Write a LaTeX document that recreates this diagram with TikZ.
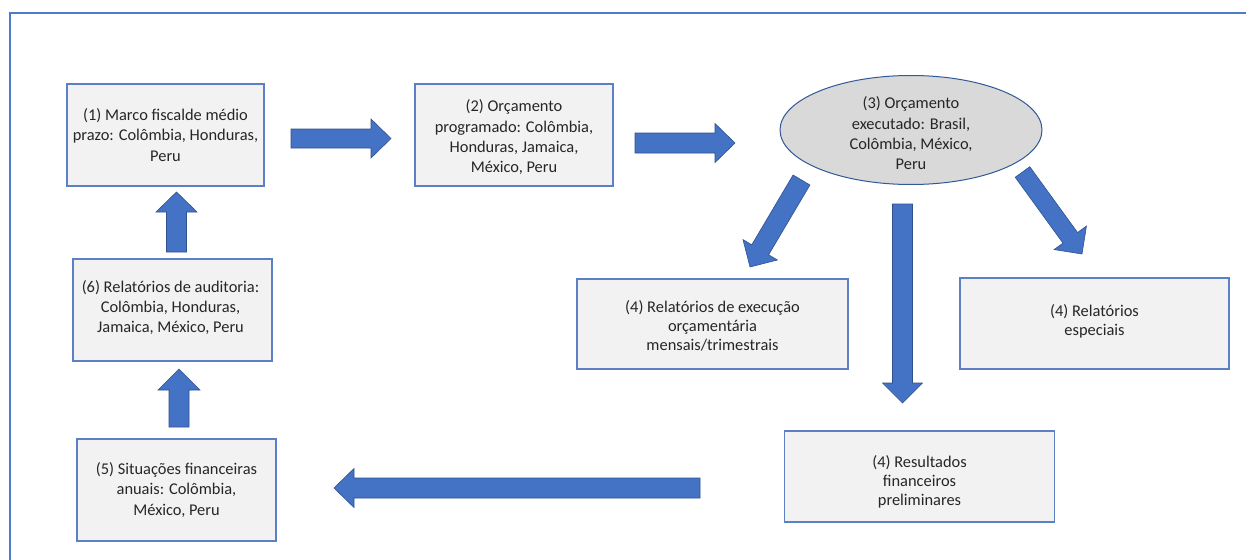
\documentclass[tikz,border=0pt]{standalone}
\usepackage{fontspec}
\setmainfont{Carlito}
\usetikzlibrary{calc,shapes.geometric}
\definecolor{bluefill}{HTML}{4472C4}
\definecolor{blueedge}{HTML}{2F528F}
\definecolor{boxedge}{HTML}{5B80C6}
\definecolor{boxfill}{HTML}{F2F2F2}
\definecolor{ellfill}{HTML}{D9D9D9}
\definecolor{txtcol}{HTML}{262626}
\definecolor{framecol}{HTML}{4F7BCB}
\tikzset{
  box/.style={rectangle, draw=boxedge, fill=boxfill, line width=1.1pt, inner sep=0pt},
  ellbox/.style={ellipse, draw=blueedge!80!bluefill, fill=ellfill, line width=1pt, inner sep=0pt},
  lbl/.style={align=center, text=txtcol, font=\fontsize{16.4}{20.3}\selectfont, inner sep=0pt},
  lblsmall/.style={lbl, font=\fontsize{16.4}{19}\selectfont},
  barrow/.style={fill=bluefill, draw=blueedge, line width=0.6pt, line join=miter},
  framestyle/.style={draw=framecol, line width=2.5pt}
}
% name, start, tip, shaft half width, head half width, head length
\newcommand\blockarrow[6]{%
  \coordinate (#1h) at ($(#3)!#6!(#2)$);
  \path[barrow] ($(#2)!#4!90:(#3)$) -- ($(#1h)!#4!90:(#3)$) -- ($(#1h)!#5!90:(#3)$) -- (#3)
     -- ($(#1h)!#5!-90:(#3)$) -- ($(#1h)!#4!-90:(#3)$) -- ($(#2)!#4!-90:(#3)$) -- cycle;
}
\begin{document}
\begin{tikzpicture}[x=1pt,y=-1pt]
\useasboundingbox (0,0) rectangle (1246,559);
\fill[white] (0,0) rectangle (1246,559);
\draw[framestyle] (1250,13) -- (10,13) -- (10,565);

\node[box, minimum width=197pt, minimum height=102pt,
  label={[lbl, yshift=0pt]center:{(1) Marco fiscalde médio\\prazo: Colômbia, Honduras,\\Peru}}]
  (b1) at (165.5,135) {};
\node[box, minimum width=198pt, minimum height=102pt,
  label={[lbl, yshift=-2.5pt]center:{(2) Orçamento\\programado: Colômbia,\\Honduras, Jamaica,\\México, Peru}}]
  (b2) at (514,135) {};
\node[ellbox, minimum width=262pt, minimum height=109pt,
  label={[lbl, yshift=-3.5pt]center:{(3) Orçamento\\executado: Brasil,\\Colômbia, México,\\Peru}}]
  (b3) at (911,130) {};
\node[box, minimum width=271pt, minimum height=90pt,
  label={[lblsmall, yshift=-1.5pt]center:{(4) Relatórios de execução\\orçamentária\\mensais/trimestrais}}]
  (b4a) at (712.5,324) {};
\node[box, minimum width=269pt, minimum height=91pt,
  label={[lblsmall, yshift=2pt]center:{(4) Relatórios\\especiais}}]
  (b4b) at (1094.5,323.5) {};
\node[box, minimum width=270pt, minimum height=91pt,
  label={[lblsmall, yshift=-5pt]center:{(4) Resultados\\financeiros\\preliminares}}]
  (b4c) at (919.5,476.5) {};
\node[box, minimum width=199pt, minimum height=102pt,
  label={[lbl, yshift=0pt]center:{(5) Situações financeiras\\anuais: Colômbia,\\México, Peru}}]
  (b5) at (176.5,490) {};
\node[box, minimum width=199pt, minimum height=102pt,
  label={[lbl, yshift=2.5pt, xshift=-2pt]center:{(6) Relatórios de auditoria:\\Colômbia, Honduras,\\Jamaica, México, Peru}}]
  (b6) at (172.5,310) {};

% arrow end points
\coordinate (a12s) at (291,138.5);   \coordinate (a12t) at (391,138.5);
\coordinate (a23s) at (635,143);     \coordinate (a23t) at (735,143);
\coordinate (a3as) at (801.5,180);   \coordinate (a3at) at (750,267);
\coordinate (a3vs) at (902.5,204);   \coordinate (a3vt) at (902.5,403);
\coordinate (a3bs) at (1022.5,172);  \coordinate (a3bt) at (1082,254);
\coordinate (a45s) at (700,488);     \coordinate (a45t) at (334,488);
\coordinate (a56s) at (179,427);     \coordinate (a56t) at (179,369);
\coordinate (a61s) at (176.5,252);   \coordinate (a61t) at (176.5,192);

\blockarrow{a12}{a12s}{a12t}{9.5pt}{19.5pt}{20pt}
\blockarrow{a23}{a23s}{a23t}{10pt}{19.5pt}{20pt}
\blockarrow{a3a}{a3as}{a3at}{9.8pt}{20pt}{20pt}
\blockarrow{a3v}{a3vs}{a3vt}{10pt}{20pt}{20pt}
\blockarrow{a3b}{a3bs}{a3bt}{9pt}{20pt}{20pt}
\blockarrow{a45}{a45s}{a45t}{10pt}{19.5pt}{20pt}
\blockarrow{a56}{a56s}{a56t}{10pt}{21pt}{21pt}
\blockarrow{a61}{a61s}{a61t}{10pt}{20.5pt}{20pt}
\end{tikzpicture}
\end{document}
